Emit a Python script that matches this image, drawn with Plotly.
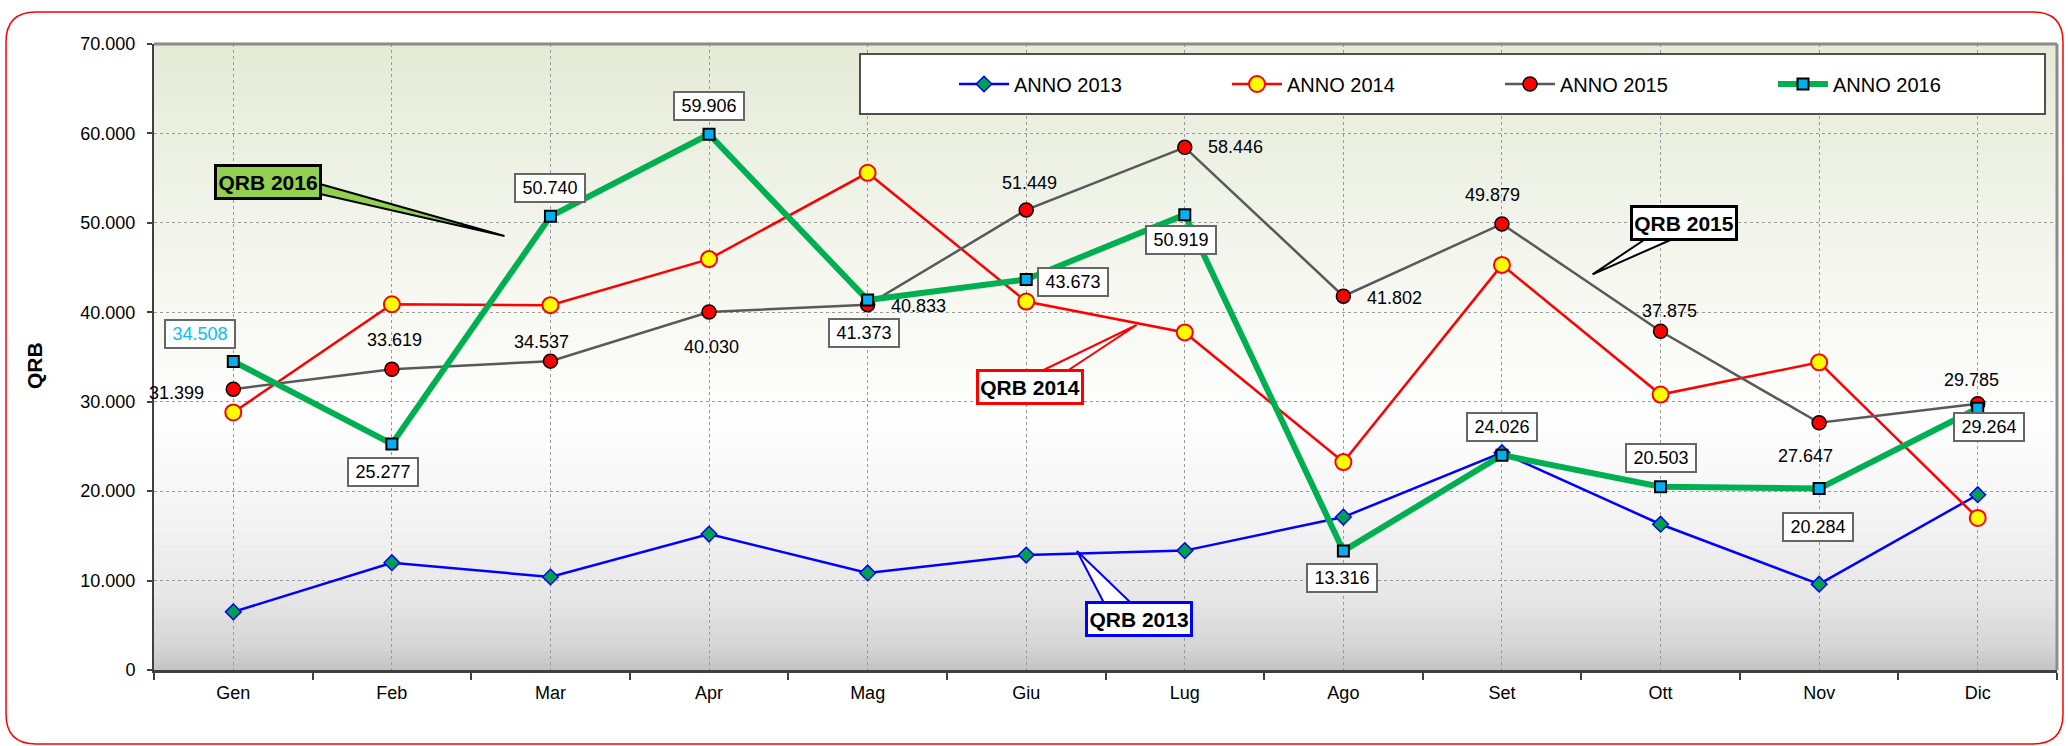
import plotly.graph_objects as go

# ---------------- data ----------------
months = ["Gen", "Feb", "Mar", "Apr", "Mag", "Giu", "Lug", "Ago", "Set", "Ott", "Nov", "Dic"]
anno_2013 = [6500, 12000, 10400, 15200, 10850, 12850, 13350, 17100, 24300, 16300, 9600, 19600]
anno_2014 = [28800, 40900, 40800, 45950, 55600, 41200, 37750, 23250, 45300, 30800, 34400, 17000]
anno_2015 = [31399, 33619, 34537, 40030, 40833, 51449, 58446, 41802, 49879, 37875, 27647, 29785]
anno_2016 = [34508, 25277, 50740, 59906, 41373, 43673, 50919, 13316, 24026, 20503, 20284, 29264]
y_ticks = [0, 10000, 20000, 30000, 40000, 50000, 60000, 70000]

# label offsets in pixels (dx right, dy down) relative to each point
off_2015 = [(-57, 4), (3, -29), (-9, -19), (2, 35), (51, 1), (3, -27), (51, 0), (51, 2),
            (-9, -29), (9, -20), (-14, 33), (-6, -24)]
off_2016 = [(-33, -27), (-9, 28), (0, -28), (0, -28), (-4, 33), (47, 3), (-4, 25), (-1, 27),
            (0, -28), (0, -29), (-1, 38), (11, 19)]

W, H = 2068, 746
ML, MR, MT, MB = 154, 11, 44, 76
PW, PH = W - ML - MR, H - MT - MB
FONT = "Liberation Sans, Arial, sans-serif"


def px(x):
    return (x - ML) / PW


def py(y):
    return (H - MB - y) / PH


xs = list(range(len(months)))
fig = go.Figure()

fig.add_trace(go.Scatter(
    x=xs, y=anno_2013, name="ANNO 2013", mode="lines+markers",
    line=dict(color="#0000ff", width=2.5),
    marker=dict(symbol="diamond", size=12, color="#00a050", line=dict(color="#0000ff", width=1.5)),
))
fig.add_trace(go.Scatter(
    x=xs, y=anno_2014, name="ANNO 2014", mode="lines+markers",
    line=dict(color="#ff0000", width=2.5),
    marker=dict(symbol="circle", size=16, color="#ffff00", line=dict(color="#ff0000", width=2)),
))
fig.add_trace(go.Scatter(
    x=xs, y=anno_2015, name="ANNO 2015", mode="lines+markers",
    line=dict(color="#595959", width=2.5),
    marker=dict(symbol="circle", size=14, color="#ff0000", line=dict(color="#000000", width=1.5)),
))
fig.add_trace(go.Scatter(
    x=xs, y=anno_2016, name="ANNO 2016", mode="lines+markers",
    line=dict(color="#00b050", width=6),
    marker=dict(symbol="square", size=11, color="#00b0f0", line=dict(color="#000000", width=2)),
))

annotations = []
# 2015 data labels (plain text)
for i, (v, (dx, dy)) in enumerate(zip(anno_2015, off_2015)):
    annotations.append(dict(
        x=i, y=v, xref="x", yref="y", text=f"{v/1000:.3f}", showarrow=False,
        xshift=dx, yshift=-dy, font=dict(family=FONT, size=18, color="#000000"),
    ))
# 2016 data labels (boxed)
for i, (v, (dx, dy)) in enumerate(zip(anno_2016, off_2016)):
    annotations.append(dict(
        x=i, y=v, xref="x", yref="y", text=f"{v/1000:.3f}", showarrow=False,
        xshift=dx, yshift=-dy,
        font=dict(family=FONT, size=18, color="#00bfff" if i == 0 else "#000000"),
        bgcolor="#ffffff", bordercolor="#666666", borderwidth=2, borderpad=2,
        width=64, height=22,
    ))

# y-axis title
annotations.append(dict(
    x=px(34), y=py(366), xref="paper", yref="paper", text="<b>QRB</b>", textangle=-90,
    showarrow=False, font=dict(family=FONT, size=21, color="#000000"),
    xanchor="center", yanchor="middle",
))

# callout boxes
callouts = [
    ("QRB 2016", 268, 182, "#92d050", "#000000"),
    ("QRB 2015", 1684, 222.5, "#ffffff", "#000000"),
    ("QRB 2014", 1030, 387, "#ffffff", "#ff0000"),
    ("QRB 2013", 1139, 619, "#ffffff", "#0000ff"),
]
for txt, cx, cy, bg, bc in callouts:
    annotations.append(dict(
        x=px(cx), y=py(cy), xref="paper", yref="paper", text=f"<b>{txt}</b>",
        showarrow=False, font=dict(family=FONT, size=21, color="#000000"),
        bgcolor=bg, bordercolor=bc, borderwidth=3, borderpad=1, width=100, height=28,
        xanchor="center", yanchor="middle",
    ))

shapes = []
# gradient plot background
stops = [(0.0, (196, 196, 196)), (0.04, (214, 214, 214)), (0.12, (231, 231, 231)),
         (0.25, (244, 244, 244)), (0.4, (254, 254, 254)), (0.5, (250, 251, 247)),
         (0.75, (240, 243, 232)), (1.0, (229, 235, 214))]


def grad(t):
    for (t0, c0), (t1, c1) in zip(stops[:-1], stops[1:]):
        if t0 <= t <= t1:
            f = (t - t0) / (t1 - t0)
            return tuple(round(a + (b - a) * f) for a, b in zip(c0, c1))
    return stops[-1][1]


N = 100
for k in range(N):
    t0, t1 = k / N, (k + 1) / N
    r, g, b = grad((t0 + t1) / 2)
    shapes.append(dict(type="rect", xref="paper", yref="paper", x0=0, x1=1, y0=t0, y1=t1 + 0.002,
                       fillcolor=f"rgb({r},{g},{b})", line=dict(width=0), layer="below"))

# plot frame (top/right gray)
shapes.append(dict(type="line", xref="paper", yref="paper", x0=0, x1=1, y0=1, y1=1,
                   line=dict(color="#8c8c8c", width=3)))
shapes.append(dict(type="line", xref="paper", yref="paper", x0=1, x1=1, y0=0, y1=1,
                   line=dict(color="#8c8c8c", width=3)))

# legend box
shapes.append(dict(type="rect", xref="paper", yref="paper", x0=px(860), x1=px(2045),
                   y0=py(114), y1=py(54), fillcolor="#ffffff",
                   line=dict(color="#505050", width=2)))


def path(points):
    s = "M " + " L ".join(f"{px(x)},{py(y)}" for x, y in points) + " Z"
    return s


# callout pointers
wedges = [
    ([(320, 184), (504.5, 236), (320, 194)], "#92d050", "#000000"),
    ([(1647, 238), (1592.6, 274.3), (1675, 238)], "#ffffff", "#000000"),
    ([(1041.5, 371), (1136.6, 325), (1067, 371)], "#ffffff", "#ff0000"),
    ([(1104, 603), (1077, 551), (1131, 603)], "#ffffff", "#0000ff"),
]
for pts, fc, lc in wedges:
    shapes.append(dict(type="path", xref="paper", yref="paper", path=path(pts),
                       fillcolor=fc, line=dict(color=lc, width=2)))

# outer rounded red border
x0, x1, y0, y1, r = 6, 2063, 12, 744, 30


def P(x, y):
    return f"{px(x)},{py(y)}"


border = (f"M {P(x0 + r, y0)} L {P(x1 - r, y0)} Q {P(x1, y0)} {P(x1, y0 + r)} "
          f"L {P(x1, y1 - r)} Q {P(x1, y1)} {P(x1 - r, y1)} "
          f"L {P(x0 + r, y1)} Q {P(x0, y1)} {P(x0, y1 - r)} "
          f"L {P(x0, y0 + r)} Q {P(x0, y0)} {P(x0 + r, y0)} Z")
shapes.append(dict(type="path", xref="paper", yref="paper", path=border,
                   line=dict(color="#ff0000", width=1.5), layer="below"))

fig.update_layout(
    width=W, height=H, autosize=False,
    margin=dict(l=ML, r=MR, t=MT, b=MB),
    paper_bgcolor="#ffffff", plot_bgcolor="rgba(0,0,0,0)",
    separators=",.",
    font=dict(family=FONT, size=18, color="#000000"),
    showlegend=True,
    legend=dict(
        orientation="h", x=px(954), y=py(84), xanchor="left", yanchor="middle",
        bgcolor="rgba(0,0,0,0)", borderwidth=0,
        font=dict(family=FONT, size=20, color="#000000"),
        itemwidth=50, entrywidth=208, entrywidthmode="pixels",
        traceorder="normal",
    ),
    annotations=annotations,
    shapes=shapes,
)

fig.update_xaxes(
    range=[-0.5, 11.5], tickmode="array", tickvals=xs, ticktext=months,
    ticks="", showgrid=True, gridcolor="#9a9a9a", griddash="dot", gridwidth=1,
    showline=True, linecolor="#404040", linewidth=3, zeroline=False,
    tickfont=dict(family=FONT, size=18, color="#000000"),
    ticklabelstandoff=4,
    minor=dict(tickmode="array", tickvals=[i - 0.5 for i in range(13)], ticks="outside",
               ticklen=7, tickcolor="#404040", tickwidth=1.5, showgrid=False),
    fixedrange=True,
)
fig.update_yaxes(
    range=[0, 70000], tickmode="array", tickvals=y_ticks, tickformat=",d",
    ticks="outside", ticklen=5, tickcolor="#404040", tickwidth=1.5,
    showgrid=True, gridcolor="#9a9a9a", griddash="dot", gridwidth=1,
    showline=True, linecolor="#404040", linewidth=2, zeroline=False,
    tickfont=dict(family=FONT, size=18, color="#000000"),
    ticklabelstandoff=8,
    fixedrange=True,
)

fig.write_html("out.html", config={"displayModeBar": False},
               post_script="document.body.style.margin='0';document.body.style.overflow='hidden';")
